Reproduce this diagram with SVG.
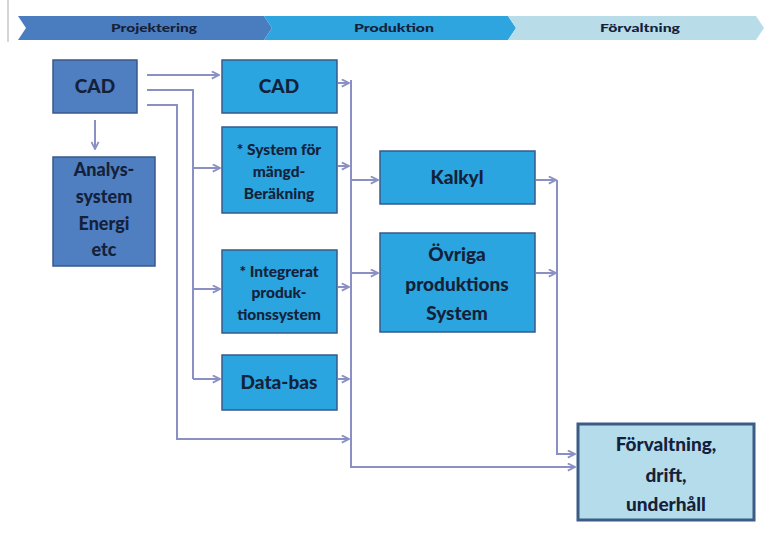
<svg xmlns="http://www.w3.org/2000/svg" width="778" height="538" viewBox="0 0 778 538">
<defs>
<style>
.t{font-family:Lato,"Open Sans","Liberation Sans",sans-serif;font-weight:900;fill:#14213a;text-anchor:middle}
.dark{fill:#4f7fc0;stroke:#38598a;stroke-width:1.5}
.mid{fill:#2aa5df;stroke:#38598a;stroke-width:1.5}
.light{fill:#b5dcea;stroke:#3b5c86;stroke-width:3}
.c{fill:none;stroke:#8b90c4;stroke-width:2}
</style>
<marker id="a" viewBox="0 0 10 10" refX="9" refY="5" markerWidth="9" markerHeight="9" markerUnits="userSpaceOnUse" orient="auto">
<path d="M1,1 L9,5 L1,9" fill="none" stroke="#8b90c4" stroke-width="2"/>
</marker>
</defs>
<rect width="778" height="538" fill="#ffffff"/>
<line x1="8" y1="0" x2="8" y2="42" stroke="#c9c9c9" stroke-width="1.5"/>
<g id="banner">
<polygon points="18,16 264,16 272,28 264,40 18,40 26,28" fill="#4a7cc0"/>
<polygon points="264,16 508,16 516,28 508,40 264,40 272,28" fill="#2ea5de"/>
<polygon points="508,16 756,16 764,28 756,40 508,40 516,28" fill="#b9dce9"/>
<text class="t" x="154" y="32" font-size="12" textLength="86" lengthAdjust="spacingAndGlyphs">Projektering</text>
<text class="t" x="394" y="32" font-size="12" textLength="80" lengthAdjust="spacingAndGlyphs">Produktion</text>
<text class="t" x="640" y="32" font-size="12" textLength="80" lengthAdjust="spacingAndGlyphs">Förvaltning</text>
</g>
<g id="connectors">
<line class="c" x1="95" y1="120" x2="95" y2="149" marker-end="url(#a)"/>
<line class="c" x1="147" y1="75" x2="219" y2="75" marker-end="url(#a)"/>
<polyline class="c" points="147,90 193,90 193,379"/>
<line class="c" x1="193" y1="168" x2="220" y2="168" marker-end="url(#a)"/>
<line class="c" x1="193" y1="289" x2="220" y2="289" marker-end="url(#a)"/>
<line class="c" x1="193" y1="379" x2="220" y2="379" marker-end="url(#a)"/>
<polyline class="c" points="147,105 177,105 177,439 349,439" marker-end="url(#a)"/>
<line class="c" x1="338" y1="83" x2="349" y2="83" marker-end="url(#a)"/>
<line class="c" x1="338" y1="166" x2="349" y2="166" marker-end="url(#a)"/>
<line class="c" x1="338" y1="287" x2="349" y2="287" marker-end="url(#a)"/>
<line class="c" x1="338" y1="379" x2="349" y2="379" marker-end="url(#a)"/>
<polyline class="c" points="351,80 351,467 575,467" marker-end="url(#a)"/>
<line class="c" x1="351" y1="180" x2="378" y2="180" marker-end="url(#a)"/>
<line class="c" x1="351" y1="273" x2="378" y2="273" marker-end="url(#a)"/>
<line class="c" x1="536" y1="180" x2="556" y2="180" marker-end="url(#a)"/>
<line class="c" x1="536" y1="273" x2="556" y2="273" marker-end="url(#a)"/>
<polyline class="c" points="557,180 557,454 575,454" marker-end="url(#a)"/>
</g>
<g id="cad-left">
<rect class="dark" x="53" y="60" width="84" height="53"/>
<text class="t" x="95" y="93" font-size="19">CAD</text>
</g>
<g id="analys">
<rect class="dark" x="53" y="157" width="102" height="109"/>
<text class="t" x="104" y="176" font-size="18">Analys-</text>
<text class="t" x="104" y="203" font-size="18">system</text>
<text class="t" x="104" y="230" font-size="18">Energi</text>
<text class="t" x="104" y="256" font-size="18">etc</text>
</g>
<g id="cad-mid">
<rect class="mid" x="222" y="60" width="115" height="53"/>
<text class="t" x="279" y="93" font-size="19">CAD</text>
</g>
<g id="mangd">
<rect class="mid" x="222" y="127" width="115" height="86"/>
<text class="t" x="279" y="155" font-size="15.5">* System för</text>
<text class="t" x="279" y="177" font-size="15.5">mängd-</text>
<text class="t" x="279" y="199" font-size="15.5">Beräkning</text>
</g>
<g id="integrerat">
<rect class="mid" x="222" y="250" width="115" height="83"/>
<text class="t" x="279" y="277" font-size="15.5">* Integrerat</text>
<text class="t" x="279" y="298" font-size="15.5">produk-</text>
<text class="t" x="279" y="320" font-size="15.5">tionssystem</text>
</g>
<g id="databas">
<rect class="mid" x="222" y="355" width="115" height="55"/>
<text class="t" x="279" y="389" font-size="19">Data-bas</text>
</g>
<g id="kalkyl">
<rect class="mid" x="380" y="151" width="155" height="53"/>
<text class="t" x="457" y="184" font-size="19">Kalkyl</text>
</g>
<g id="ovriga">
<rect class="mid" x="380" y="233" width="155" height="99"/>
<text class="t" x="457" y="261" font-size="19">Övriga</text>
<text class="t" x="457" y="291" font-size="19">produktions</text>
<text class="t" x="457" y="320" font-size="19">System</text>
</g>
<g id="forvaltning">
<rect class="light" x="578" y="424" width="176" height="96"/>
<text class="t" x="666" y="451" font-size="19">Förvaltning,</text>
<text class="t" x="666" y="482" font-size="19">drift,</text>
<text class="t" x="666" y="511" font-size="19">underhåll</text>
</g>
</svg>
